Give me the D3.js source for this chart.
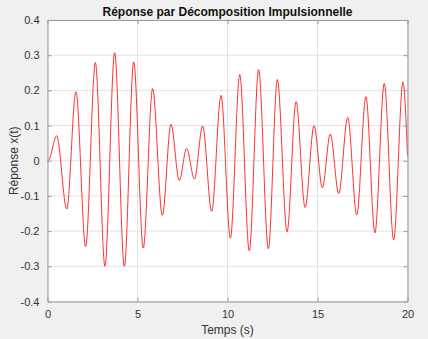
<!DOCTYPE html>
<html>
<head>
<meta charset="utf-8">
<script src="https://cdn.jsdelivr.net/npm/d3@7"></script>
<style>
  body { margin: 0; background: #f0f0f0; }
  svg { display: block; font-family: "Liberation Sans", Arial, sans-serif; }
</style>
</head>
<body>
<svg id="chart" width="428" height="339"></svg>
<script>
// extremums (temps en s, reponse)
var temps = [0, 0.08, 0.51, 1.07, 1.58, 2.12, 2.66, 3.19, 3.73, 4.27, 4.79, 5.32, 5.84, 6.38,
    6.86, 7.32, 7.73, 8.16, 8.62, 9.12, 9.64, 10.16, 10.68, 11.21, 11.73, 12.27, 12.77, 13.31,
    13.81, 14.31, 14.81, 15.27, 15.71, 16.18, 16.68, 17.18, 17.69, 18.19, 18.71, 19.23, 19.75, 20];
var reponse = [0, 0.003, 0.071, -0.137, 0.196, -0.244, 0.279, -0.300, 0.307, -0.300, 0.281, -0.248, 0.205, -0.155,
    0.104, -0.056, 0.035, -0.052, 0.099, -0.144, 0.186, -0.220, 0.245, -0.256, 0.259, -0.250, 0.231, -0.202,
    0.168, -0.133, 0.100, -0.077, 0.076, -0.093, 0.123, -0.154, 0.182, -0.205, 0.220, -0.225, 0.224, 0.015];
var xTicks = [0, 5, 10, 15, 20];
var yTicks = [-0.4, -0.3, -0.2, -0.1, 0, 0.1, 0.2, 0.3, 0.4];

var svg = d3.select('#chart'),
    mLeft = 47.5, mTop = 20, mRight = 407.5, mBottom = 301.5,
    width = mRight - mLeft,
    height = mBottom - mTop;

var xScale = d3.scaleLinear().domain([0, 20]).range([0, width]),
    yScale = d3.scaleLinear().domain([-0.4, 0.4]).range([height, 0]);

var g = svg.append('g').attr('transform', 'translate(' + mLeft + ',' + mTop + ')');

g.append('rect').attr('width', width).attr('height', height).attr('fill', '#fff');

// grille
g.selectAll('.gx').data(xTicks).enter().append('line')
    .attr('x1', function(d){ return xScale(d); }).attr('x2', function(d){ return xScale(d); })
    .attr('y1', 0).attr('y2', height)
    .attr('stroke', '#e3e3e3').attr('stroke-width', 1);
g.selectAll('.gy').data(yTicks).enter().append('line')
    .attr('y1', function(d){ return yScale(d); }).attr('y2', function(d){ return yScale(d); })
    .attr('x1', 0).attr('x2', width)
    .attr('stroke', '#e3e3e3').attr('stroke-width', 1);

// courbe
var line = d3.line()
    .x(function(d, i){ return xScale(temps[i]); })
    .y(function(d){ return yScale(d); })
    .curve(d3.curveMonotoneX);

g.append('path').datum(reponse)
    .attr('d', line)
    .attr('fill', 'none')
    .attr('stroke', '#ff1a1a')
    .attr('stroke-width', 0.9);

// axes (ticks vers l'interieur, style matlab)
var fmtYs = function(d){ return d === 0 ? '0' : d3.format('.1f')(d).replace('−', '-'); };

var axB = g.append('g').attr('transform', 'translate(0,' + height + ')')
    .call(d3.axisBottom(xScale).tickValues(xTicks).tickSizeInner(-4).tickSizeOuter(0).tickPadding(9));
var axT = g.append('g')
    .call(d3.axisTop(xScale).tickValues(xTicks).tickSizeInner(-4).tickSizeOuter(0).tickFormat(''));
var axL = g.append('g')
    .call(d3.axisLeft(yScale).tickValues(yTicks).tickSizeInner(-4).tickSizeOuter(0).tickPadding(8).tickFormat(fmtYs));
var axR = g.append('g').attr('transform', 'translate(' + width + ',0)')
    .call(d3.axisRight(yScale).tickValues(yTicks).tickSizeInner(-4).tickSizeOuter(0).tickFormat(''));

[axB, axT, axL, axR].forEach(function(a){
    a.select('.domain').attr('stroke', '#9a9a9a');
    a.selectAll('.tick line').attr('stroke', '#9a9a9a');
    a.selectAll('.tick text').attr('fill', '#333').attr('font-size', '11px')
        .attr('font-family', '"Liberation Sans", Arial, sans-serif');
});

// titre et labels
svg.append('text')
    .attr('x', mLeft + width / 2).attr('y', 16)
    .attr('text-anchor', 'middle')
    .attr('font-size', '12px').attr('font-weight', 'bold').attr('fill', '#111')
    .text('Réponse par Décomposition Impulsionnelle');

svg.append('text')
    .attr('x', mLeft + width / 2).attr('y', 334)
    .attr('text-anchor', 'middle')
    .attr('font-size', '12px').attr('fill', '#333')
    .text('Temps (s)');

svg.append('text')
    .attr('transform', 'translate(18,' + (mTop + height / 2) + ') rotate(-90)')
    .attr('text-anchor', 'middle')
    .attr('font-size', '12px').attr('fill', '#333')
    .text('Réponse x(t)');
</script>
</body>
</html>
